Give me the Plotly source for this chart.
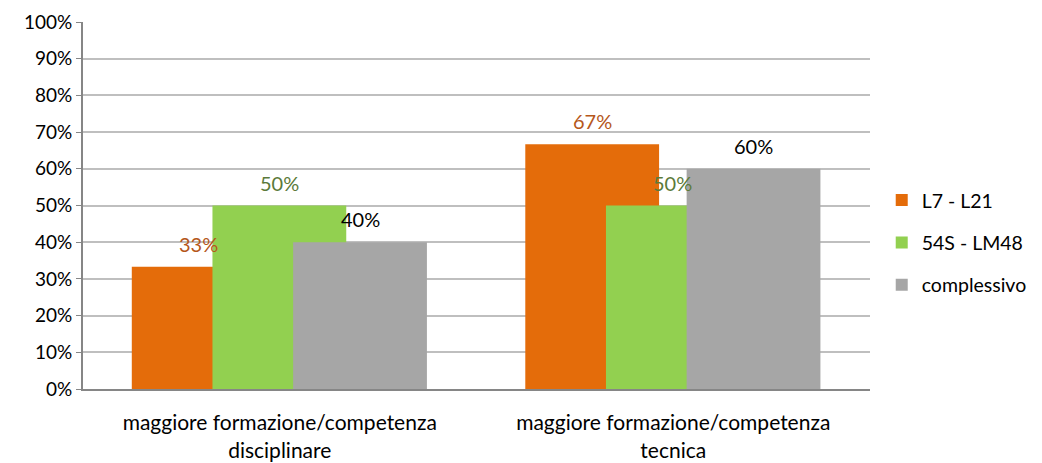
import plotly.graph_objects as go

categorie = ["maggiore formazione/competenza<br>disciplinare",
             "maggiore formazione/competenza<br>tecnica"]
serie = ["L7 - L21", "54S - LM48", "complessivo"]
l7_l21 = [0.333, 0.667]
s54_lm48 = [0.50, 0.50]
complessivo = [0.40, 0.60]
etichette = [["33%", "67%"], ["50%", "50%"], ["40%", "60%"]]
tick_y = [0, 0.1, 0.2, 0.3, 0.4, 0.5, 0.6, 0.7, 0.8, 0.9, 1.0]

colori = ["#E46C0A", "#92D050", "#A6A6A6"]
colori_testo = ["#B5571B", "#5B7A3A", "#000000"]
offset = [-0.376, -0.171, 0.034]
larghezza = 0.34

pos = list(range(len(categorie)))

fig = go.Figure()
for i, (nome, valori) in enumerate(zip(serie, [l7_l21, s54_lm48, complessivo])):
    fig.add_trace(go.Bar(
        x=pos, y=valori, name=nome,
        marker=dict(color=colori[i], line=dict(width=0)),
        width=larghezza, offset=offset[i],
        legendgroup=nome,
    ))
    # etichette dei dati sopra le barre
    for j, v in enumerate(valori):
        fig.add_annotation(
            x=pos[j] + offset[i] + larghezza / 2, y=v, text=etichette[i][j],
            showarrow=False, yanchor="bottom", yshift=9,
            font=dict(color=colori_testo[i], size=20),
        )

# la pagina html ha 8px di margine nel body: figura un po' piu' piccola
fig.update_layout(
    width=1034, height=455,
    barmode="overlay",
    paper_bgcolor="white", plot_bgcolor="white",
    font=dict(family="Lato, Open Sans, sans-serif", size=18, color="#000000"),
    margin=dict(l=75, r=172, t=14, b=74),
    showlegend=True,
    legend=dict(xref="container", x=0.845, y=0.398, xanchor="left", yanchor="middle",
                font=dict(size=19.5), tracegroupgap=14,
                bgcolor="rgba(255,255,255,0)"),
    xaxis=dict(showline=True, linecolor="#868686", linewidth=2,
               tickvals=pos, ticktext=categorie, tickfont=dict(size=21),
               ticks="", ticklabelstandoff=14, range=[-0.5, 1.5],
               showgrid=False, zeroline=False, automargin=False),
    yaxis=dict(range=[0, 1], tickvals=tick_y, tickformat=".0%",
               showgrid=True, gridcolor="#BFBFBF", gridwidth=1.5,
               showline=True, linecolor="#868686", linewidth=2,
               ticks="outside", ticklen=5, tickcolor="#868686",
               tickfont=dict(size=19), zeroline=False, automargin=False),
)

fig.write_html("out.html")
